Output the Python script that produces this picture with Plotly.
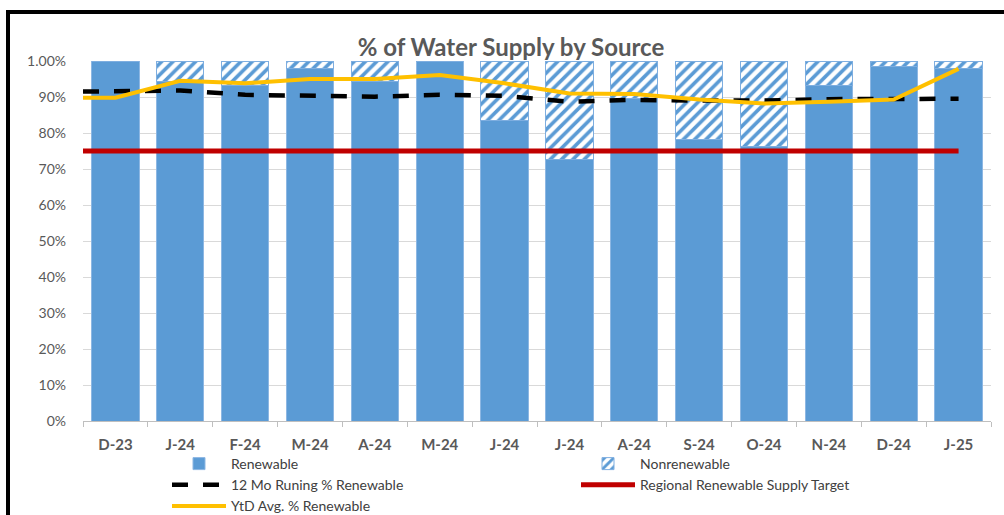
import plotly.graph_objects as go

months = ["D-23", "J-24", "F-24", "M-24", "A-24", "M-24", "J-24", "J-24",
          "A-24", "S-24", "O-24", "N-24", "D-24", "J-25"]
renewable = [1.000, 0.942, 0.932, 0.978, 0.943, 1.000, 0.834, 0.727,
             0.895, 0.782, 0.762, 0.933, 0.984, 0.978]
nonrenewable = [round(1 - v, 3) for v in renewable]
running_12mo = [0.915, 0.918, 0.906, 0.904, 0.901, 0.906, 0.903, 0.887,
                0.892, 0.890, 0.890, 0.894, 0.894, 0.895]
ytd_avg = [0.898, 0.945, 0.938, 0.950, 0.950, 0.961, 0.938, 0.910,
           0.908, 0.893, 0.882, 0.887, 0.893, 0.978]
target = [0.75] * len(months)

y_tick_vals = [0, 0.1, 0.2, 0.3, 0.4, 0.5, 0.6, 0.7, 0.8, 0.9, 1.0]
y_tick_text = ["0%", "10%", "20%", "30%", "40%", "50%", "60%", "70%", "80%", "90%", "1.00%"]

idx = list(range(len(months)))
# line series start at the left edge of the plot area (as in the source chart)
line_x = [-0.5] + idx

BLUE = "#5b9bd5"
fig = go.Figure()
fig.add_trace(go.Bar(
    x=idx, y=renewable, name="Renewable",
    marker=dict(color=BLUE, line=dict(color="#8db7e3", width=1)),
))
fig.add_trace(go.Bar(
    x=idx, y=nonrenewable, name="Nonrenewable",
    marker=dict(color="white", line=dict(color="#7eaee0", width=1),
                pattern=dict(shape="/", fgcolor=BLUE, bgcolor="white",
                             size=8, solidity=0.45, fillmode="replace")),
))
fig.add_trace(go.Scatter(
    x=line_x, y=[running_12mo[0]] + running_12mo, name="12 Mo Runing % Renewable",
    mode="lines", line=dict(color="black", width=4.5, dash="16px,15px"),
))
fig.add_trace(go.Scatter(
    x=line_x, y=[target[0]] + target, name="Regional Renewable Supply Target",
    mode="lines", line=dict(color="#c00000", width=5),
))
fig.add_trace(go.Scatter(
    x=line_x, y=[ytd_avg[0]] + ytd_avg, name="YtD Avg. % Renewable",
    mode="lines", line=dict(color="#ffc000", width=4),
))

L, R, T, B = 83, 13, 61, 94
W, H = 1004, 515
pw, ph = W - L - R, H - T - B

def px_x(p):
    return (p - L) / pw

def px_y(p):
    return (H - B - p) / ph

FONT = "Lato, Liberation Sans, sans-serif"
fig.update_layout(
    width=W, height=H,
    margin=dict(l=L, r=R, t=T, b=B, autoexpand=False),
    barmode="stack", bargap=0.27,
    plot_bgcolor="white", paper_bgcolor="white",
    font=dict(family=FONT, color="#595959"),
    title=dict(text="<b>% of Water Supply by Source</b>",
               font=dict(size=24, color="#595959", family=FONT),
               x=px_x(511), xref="paper", xanchor="center",
               y=1 - 48 / H, yref="container", yanchor="middle"),
    xaxis=dict(
        range=[-0.5, 13.5], tickmode="array", tickvals=idx, ticktext=months,
        showgrid=False, showline=True, linecolor="#bfbfbf", linewidth=1,
        ticks="", ticklabelstandoff=10, zeroline=False,
        tickfont=dict(size=15, color="#595959", family=FONT, weight="bold"),
        minor=dict(tickmode="linear", tick0=-0.5, dtick=1, ticks="outside",
                   ticklen=5, tickcolor="#bfbfbf", showgrid=False),
    ),
    yaxis=dict(
        range=[0, 1.0], tickmode="array", tickvals=y_tick_vals, ticktext=y_tick_text,
        showgrid=True, gridcolor="#d9d9d9", gridwidth=1, zeroline=False,
        showline=False, ticks="", ticklabelstandoff=16,
        tickfont=dict(size=14, color="#595959", family=FONT),
    ),
    legend=dict(
        orientation="h", x=px_x(167), xanchor="left", y=px_y(448), yanchor="top",
        entrywidth=340, entrywidthmode="pixels", traceorder="normal",
        font=dict(size=14, color="#404040", family=FONT),
        bgcolor="rgba(0,0,0,0)", itemwidth=54, tracegroupgap=0,
    ),
    shapes=[dict(type="rect", xref="paper", yref="paper",
                 x0=px_x(8), x1=px_x(1012), y0=px_y(525), y1=px_y(12),
                 line=dict(color="black", width=4), fillcolor="rgba(0,0,0,0)",
                 layer="above")],
)

fig.write_html("out.html", config={"displayModeBar": False},
               post_script="document.body.style.margin='0';document.body.style.overflow='hidden';")
